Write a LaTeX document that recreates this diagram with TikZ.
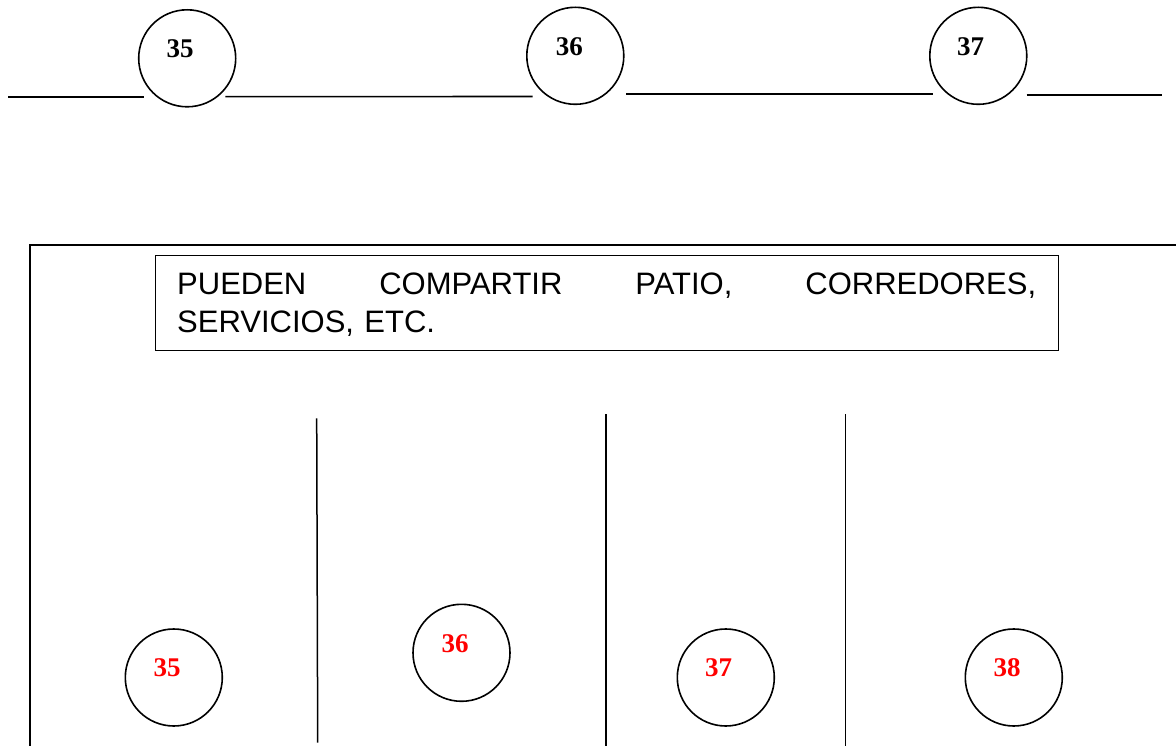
\documentclass[tikz,border=0pt]{standalone}
\usepackage{fontspec}
\setmainfont{Liberation Serif}
\newfontfamily\arialf{Liberation Sans}
\begin{document}
\begin{tikzpicture}[x=1pt,y=-1pt,
  ring/.style={draw, circle, line width=1.6pt, minimum size=97pt, inner sep=0pt},
  num/.style={font=\fontsize{27}{30}\selectfont\bfseries, inner sep=0pt},
  rednum/.style={num, text=red},
  wire/.style={line width=1.6pt},
  wall/.style={line width=1.5pt}]
\useasboundingbox (0,0) rectangle (1176,746);

% top row
\node[ring] (c35) at (187.2,58.3) {};
\node[ring] (c36) at (575.3,55.8) {};
\node[ring] (c37) at (978.3,55.8) {};
\node[num] (n35) at (180,48.3) {35};
\node[num] (n36) at (569.3,46.3) {36};
\node[num] (n37) at (970.7,46.7) {37};

\coordinate (t0) at (8.3,97.3);
\coordinate (t1) at (144,97.3);
\coordinate (t2) at (225.3,96.7);
\coordinate (t3) at (532.7,96.5);
\coordinate (t4) at (626,94);
\coordinate (t5) at (932.7,94);
\coordinate (t6) at (1026.7,95.3);
\coordinate (t7) at (1161.7,95.3);
\draw[wire] (t0) -- (t1);
\draw[wire] (t2) -- (t3);
\draw[wire] (t4) -- (t5);
\draw[wire] (t6) -- (t7);

% frame
\coordinate (fR) at (1176,245);
\coordinate (fTL) at (30,245);
\coordinate (fB) at (30,746);
\draw[wall] (fR) -- (fTL) -- (fB);

% text box
\node[draw, line width=1.3pt, anchor=north west, minimum width=903pt, minimum height=95pt, inner sep=0pt] (box) at (155,255) {};
\node[anchor=north west, inner sep=0pt, font=\arialf\fontsize{31}{38}\selectfont, text width=859pt, align=left] (txt) at (177,272.5)
  {\makebox[859pt][s]{PUEDEN\hfill COMPARTIR\hfill PATIO,\hfill CORREDORES,}\\SERVICIOS, ETC.};

% dividers
\coordinate (d1a) at (316.7,418.3);
\coordinate (d1b) at (317.7,742.7);
\coordinate (d2a) at (606,414.3);
\coordinate (d2b) at (606,746);
\coordinate (d3a) at (845.7,414.3);
\coordinate (d3b) at (845.7,746);
\draw[wall] (d1a) -- (d1b);
\draw[wall] (d2a) -- (d2b);
\draw[wall] (d3a) -- (d3b);

% bottom row
\node[ring] (b35) at (173.8,677.5) {};
\node[ring] (b36) at (461.5,652.8) {};
\node[ring] (b37) at (725.8,677.5) {};
\node[ring] (b38) at (1013.8,677.5) {};
\node[rednum] (r35) at (167,667.5) {35};
\node[rednum] (r36) at (455,643.2) {36};
\node[rednum] (r37) at (718.7,667.5) {37};
\node[rednum] (r38) at (1007,667.5) {38};
\end{tikzpicture}
\end{document}
